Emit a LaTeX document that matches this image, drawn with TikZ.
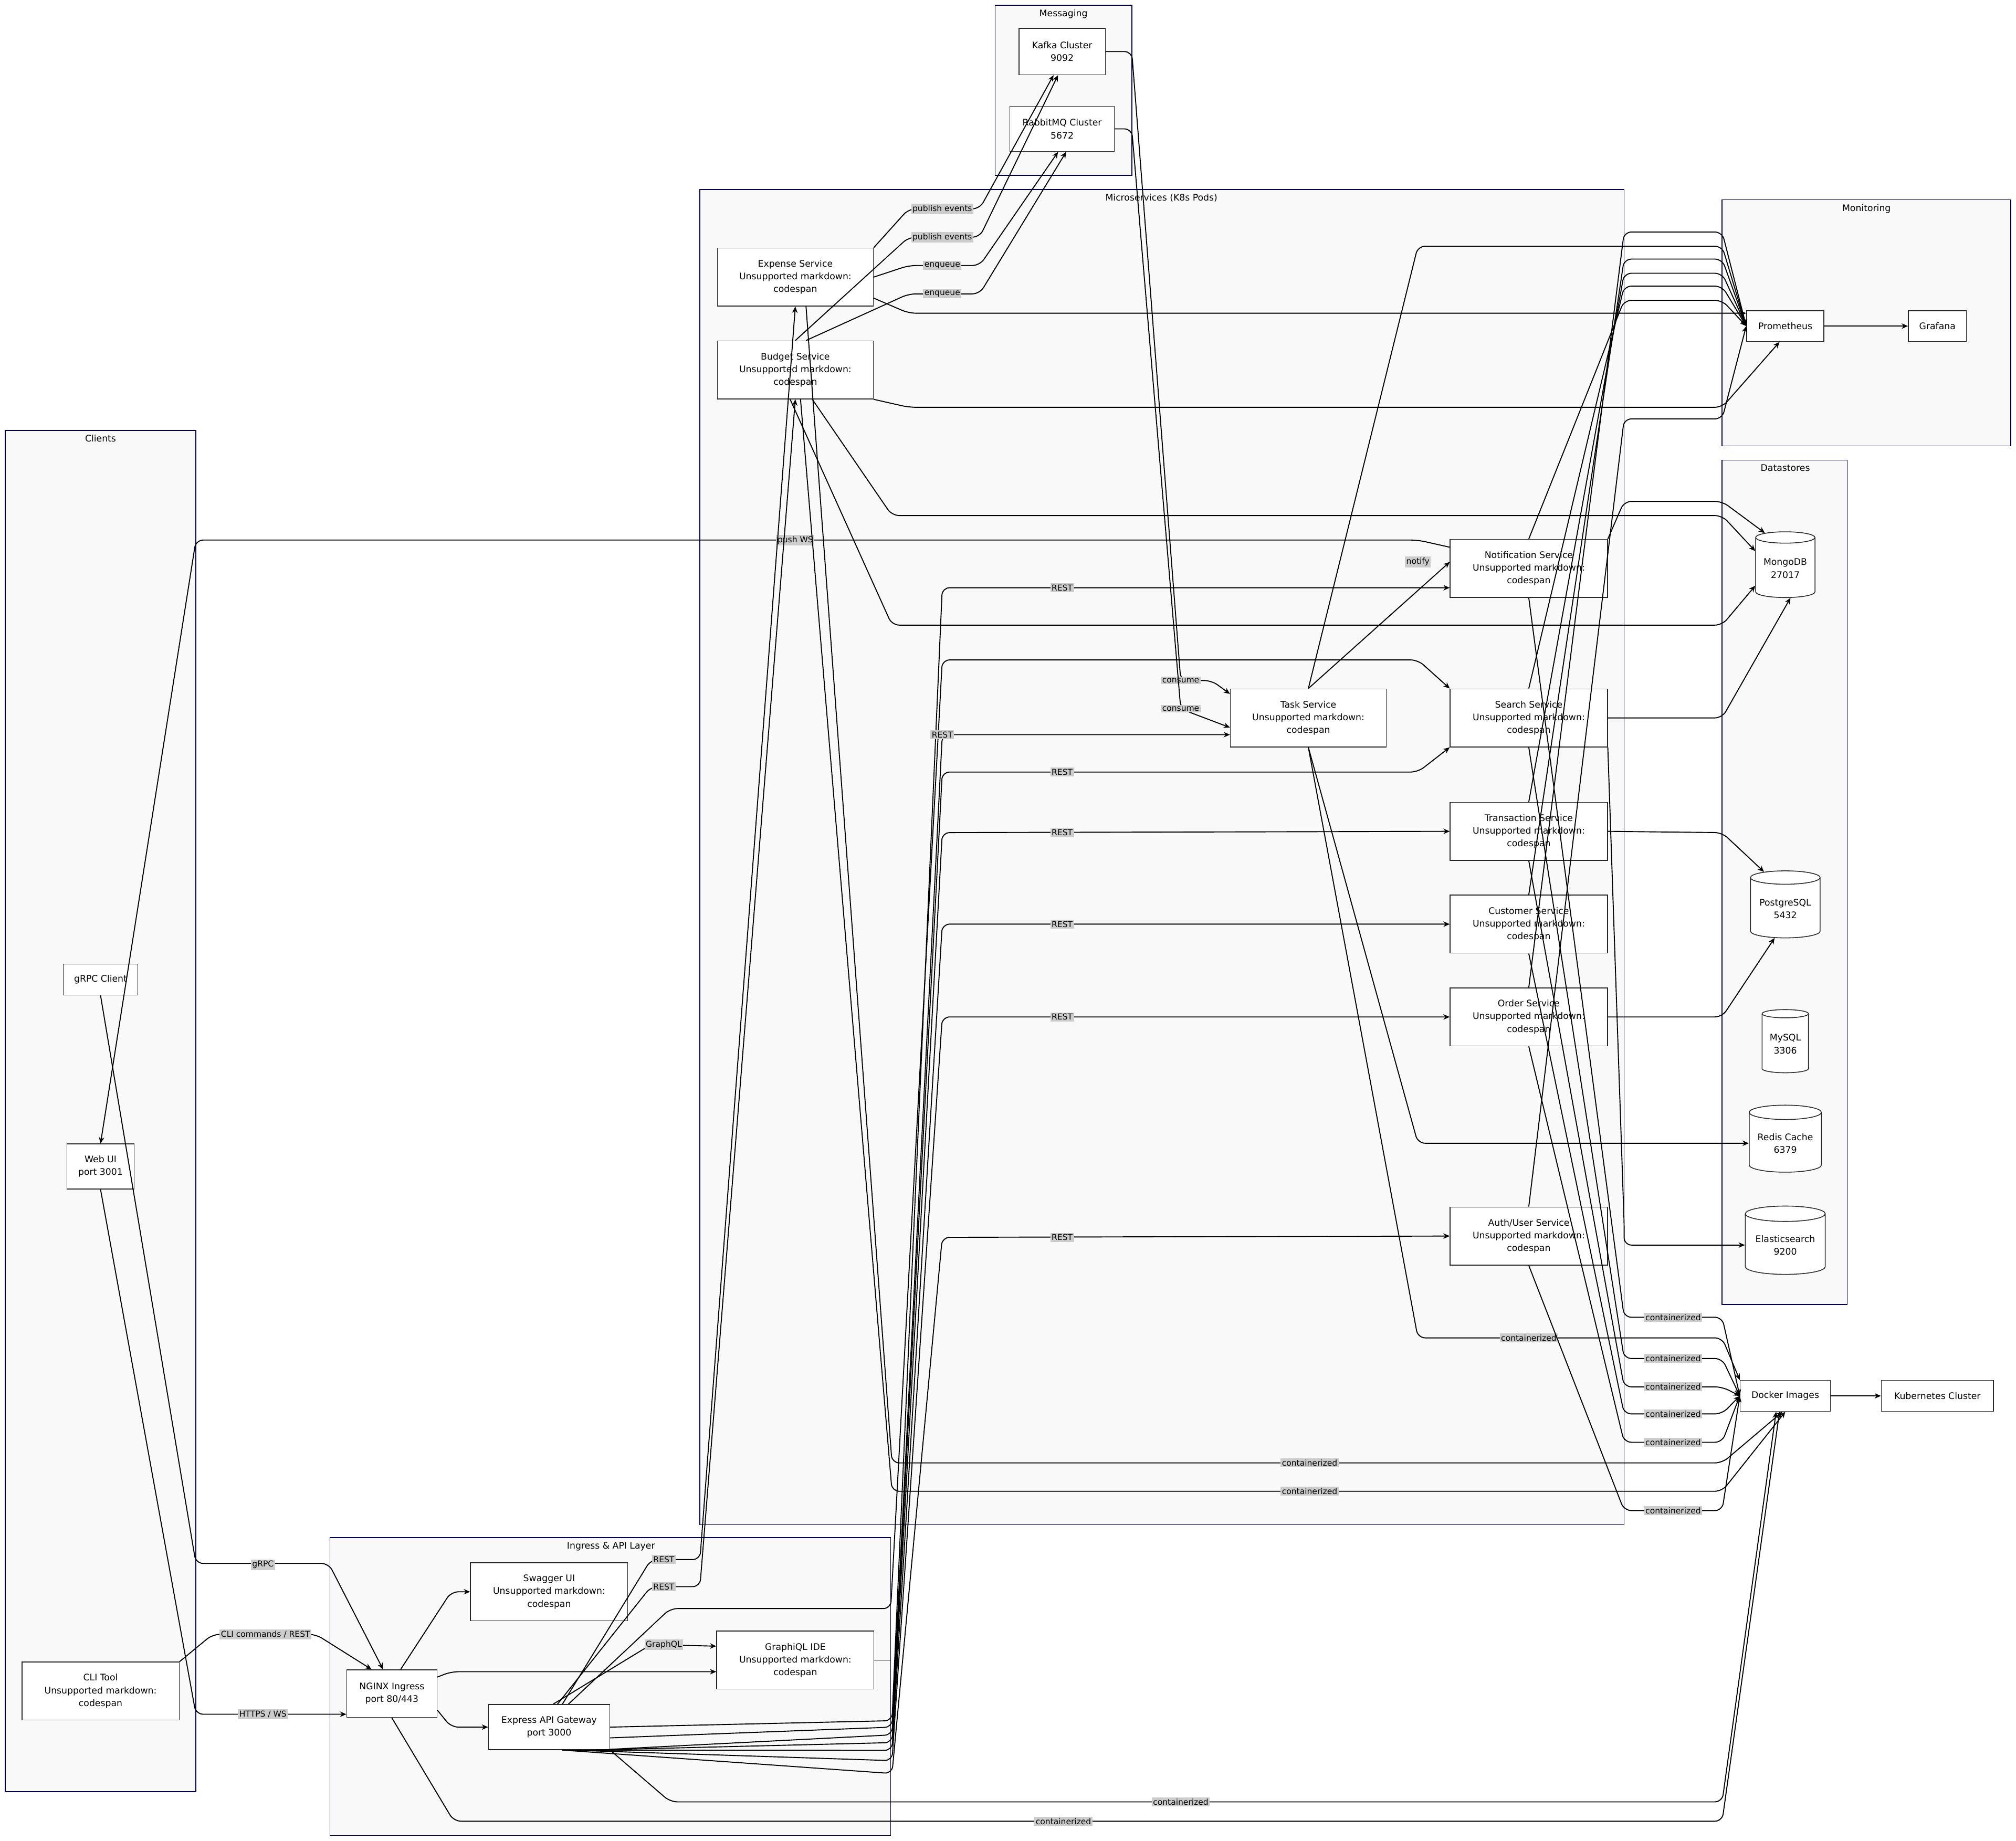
\documentclass[tikz,border=0pt]{standalone}
\usepackage{fontspec}
\setmainfont{DejaVu Sans}
\usetikzlibrary{shapes.geometric,arrows.meta}
\begin{document}
\begin{tikzpicture}[x=0.05cm,y=-0.05cm,
 every node/.style={font=\fontsize{10}{14}\selectfont},
 cl/.style={draw=black!70!blue,fill=gray!5,line width=0.9pt},
 ctitle/.style={anchor=north,font=\fontsize{10}{12}\selectfont},
 box/.style={draw=black!85,fill=white,line width=0.9pt,align=center,inner sep=1pt},
 db/.style={draw=black!85,fill=white,line width=0.9pt,cylinder,shape border rotate=90,aspect=0.25,align=center,inner sep=1pt},
 arr/.style={draw=black,line width=1.1pt,-{Stealth[length=7pt,width=6pt]},rounded corners=8pt},
 lbl/.style={fill=gray!40,inner sep=1.5pt,font=\fontsize{9}{10}\selectfont}]
\useasboundingbox (0,0) rectangle (1564,1428);
\fill[white] (0,0) rectangle (1564,1428);
% clusters
\draw[cl] (772,4) rectangle (878,136); \node[ctitle] at (825,5) {Messaging};
\draw[cl] (543,147) rectangle (1260,1183); \node[ctitle] at (901,148) {Microservices (K8s Pods)};
\draw[cl] (1336,155) rectangle (1560,346); \node[ctitle] at (1448,156) {Monitoring};
\draw[cl] (1336,357) rectangle (1433,1012); \node[ctitle] at (1385,358) {Datastores};
\draw[cl] (4,334) rectangle (152,1390); \node[ctitle] at (78,335) {Clients};
\draw[cl] (256,1193) rectangle (691,1424); \node[ctitle] at (474,1194) {Ingress \& API Layer};
\newcommand\bx[6]{\node[box,minimum width=#4*0.05cm,minimum height=#5*0.05cm] (#1) at (#2,#3) {#6};}
\newcommand\cy[6]{\node[db,minimum width=#4*0.05cm,minimum height=#5*0.05cm] (#1) at (#2,#3) {#6};}
\def\um{Unsupported markdown:\\codespan}
\bx{kafka}{824}{40}{67}{36}{Kafka Cluster\\9092}
\bx{rabbit}{824}{100}{81}{35}{RabbitMQ Cluster\\5672}
\bx{expense}{617}{215}{121}{45}{Expense Service\\\um}
\bx{budget}{617}{287}{121}{45}{Budget Service\\\um}
\bx{notif}{1186}{441}{122}{45}{Notification Service\\\um}
\bx{task}{1015}{557}{121}{45}{Task Service\\\um}
\bx{search}{1186}{557}{122}{45}{Search Service\\\um}
\bx{trans}{1186}{645}{122}{45}{Transaction Service\\\um}
\bx{cust}{1186}{717}{122}{45}{Customer Service\\\um}
\bx{order}{1186}{789}{122}{45}{Order Service\\\um}
\bx{auth}{1186}{959}{122}{45}{Auth/User Service\\\um}
\bx{prom}{1385}{253}{60}{24}{Prometheus}
\bx{graf}{1503}{253}{45}{24}{Grafana}
\cy{mongo}{1385}{441}{46}{51}{MongoDB\\27017}
\cy{pg}{1385}{705}{54}{52}{PostgreSQL\\5432}
\cy{mysql}{1385}{810}{36}{49}{MySQL\\3306}
\cy{redis}{1385}{887}{56}{52}{Redis Cache\\6379}
\cy{es}{1385}{966}{62}{53}{Elasticsearch\\9200}
\bx{docker}{1385}{1083}{70}{24}{Docker Images}
\bx{k8s}{1503}{1083}{87}{24}{Kubernetes Cluster}
\bx{grpc}{78}{760}{58}{24}{gRPC Client}
\bx{web}{78}{905}{52}{35}{Web UI\\port 3001}
\bx{cli}{78}{1312}{122}{45}{CLI Tool\\\um}
\bx{nginx}{304}{1314}{70}{37}{NGINX Ingress\\port 80/443}
\bx{swag}{426}{1235}{122}{45}{Swagger UI\\\um}
\bx{gql}{617}{1288}{122}{45}{GraphiQL IDE\\\um}
\bx{gw}{426}{1340}{94}{35}{Express API Gateway\\port 3000}
% clients
\draw[arr] (web.south) -- (152,1330) -- (nginx.west|-0,1330);
\node[lbl] at (204,1330) {HTTPS / WS};
\draw[arr] (cli.north east) -- (165,1268) -- (245,1268) -- (nginx.130);
\node[lbl] at (206,1268) {CLI commands / REST};
\draw[arr] (grpc.south) -- (152,1213) -- (255,1213) -- (nginx.110);
\node[lbl] at (204,1214) {gRPC};
\draw[arr] (notif.165) -- (1100,419) -- (152,419) -- (web.north);
\node[lbl] at (617,419) {push WS};
% nginx
\draw[arr] (nginx.70) -- (350,1235) -- (swag.west);
\draw[arr] (nginx.20) -- (350,1297) -- (gql.west|-0,1297);
\draw[arr] (nginx.-20) -- (350,1340) -- (gw.west);
\draw[arr] (nginx.south) -- (352,1413) -- (1336,1413) -- (docker.250);
\node[lbl] at (825,1413) {containerized};
% gateway
\draw[arr] (gw.60) -- (505,1210) -- (543,1210) -- (expense.south);
\node[lbl] at (515,1210) {REST};
\draw[arr] (gw.70) -- (505,1231) -- (543,1231) -- (budget.south);
\node[lbl] at (515,1231) {REST};
\draw[arr] (gw.80) -- (505,1276) -- (gql.170);
\node[lbl] at (515,1276) {GraphQL};
\draw[arr] (gw.50) -- (520,1248) -- (691,1248) -- (731,512) -- (1100,512) -- (search.north west);
\draw (gql.east) -- (691,1288);
\draw[arr] (gw.east) -- (692,1335) -- (731,456) -- (notif.west|-0,456);
\node[lbl] at (824,456) {REST};
\draw[arr] (gw.-10) -- (692,1340) -- (731,570) -- (task.west|-0,570);
\node[lbl] at (731,570) {REST};
\draw[arr] (gw.-20) -- (692,1346) -- (731,599) -- (1100,599) -- (search.south west);
\node[lbl] at (824,599) {REST};
\draw[arr] (gw.-30) -- (692,1352) -- (731,646) -- (trans.west);
\node[lbl] at (824,646) {REST};
\draw[arr] (gw.-40) -- (692,1358) -- (731,717) -- (cust.west);
\node[lbl] at (824,717) {REST};
\draw[arr] (gw.-50) -- (692,1366) -- (731,789) -- (order.west);
\node[lbl] at (824,789) {REST};
\draw[arr] (gw.-60) -- (692,1376) -- (731,960) -- (auth.west);
\node[lbl] at (824,960) {REST};
\draw[arr] (gw.south east) -- (520,1398) -- (1336,1398) -- (docker.240);
\node[lbl] at (916,1398) {containerized};
% expense/budget
\draw[arr] (expense.north east) -- (705,162) -- (760,162) -- (kafka.250);
\node[lbl] at (731,162) {publish events};
\draw[arr] (budget.north) -- (705,184) -- (760,184) -- (kafka.260);
\node[lbl] at (731,184) {publish events};
\draw[arr] (expense.east) -- (705,206) -- (760,206) -- (rabbit.260);
\node[lbl] at (731,206) {enqueue};
\draw[arr] (budget.70) -- (705,228) -- (760,228) -- (rabbit.280);
\node[lbl] at (731,228) {enqueue};
\draw[arr] (expense.-15) -- (705,243) -- (prom.west|-0,243);
\draw[arr] (budget.south east) -- (705,316) -- (1336,316) -- (prom.250);
\draw[arr] (budget.-60) -- (692,400) -- (1336,400) -- (mongo.150);
\draw[arr] (budget.-100) -- (692,485) -- (1336,485) -- (mongo.210);
\draw[arr] (expense.-70) -- (692,1135) -- (1336,1135) -- (docker.260);
\node[lbl] at (1016,1135) {containerized};
\draw[arr] (budget.-80) -- (692,1157) -- (1336,1157) -- (docker.270);
\node[lbl] at (1016,1157) {containerized};
% messaging to task
\draw[arr] (kafka.east) -- (878,40) -- (916,528) -- (940,528) -- (task.163);
\node[lbl] at (916,528) {consume};
\draw[arr] (rabbit.east) -- (878,100) -- (916,550) -- (task.187);
\node[lbl] at (916,550) {consume};
% task
\draw[arr] (task.north) -- (notif.west|-0,436);
\node[lbl] at (1100,436) {notify};
\draw[arr] (task.north) -- (1100,191) -- (1336,191) -- (prom.west);
\draw[arr] (task.south) -- (1100,887) -- (redis.west);
\draw[arr] (task.south) -- (1100,1038) -- (1336,1038) -- (docker.north west);
\node[lbl] at (1186,1038) {containerized};
% services to prometheus
\foreach \s/\yy in {order/180,cust/201,trans/212,search/222,notif/233,auth/325}{
 \draw[arr] (\s.north) -- (1260,\yy) -- (1336,\yy) -- (prom.west);}
% services to docker
\foreach \s/\yy in {notif/1022,search/1054,trans/1076,cust/1097,order/1119,auth/1172}{
 \draw[arr] (\s.south) -- (1260,\yy) -- (1336,\yy) -- (docker.west);
 \node[lbl] at (1298,\yy) {containerized};}
% datastores
\draw[arr] (notif.north east) -- (1260,389) -- (1336,389) -- (mongo.120);
\draw[arr] (search.east) -- (1260,557) -- (1336,557) -- (mongo.280);
\draw[arr] (trans.east) -- (1336,646) -- (pg.120);
\draw[arr] (order.east) -- (1336,789) -- (pg.250);
\draw[arr] (search.south east) -- (1260,950) -- (1260,966) -- (es.west);
\draw[arr] (prom.east) -- (graf.west);
\draw[arr] (docker.east) -- (k8s.west);
\end{tikzpicture}
\end{document}
